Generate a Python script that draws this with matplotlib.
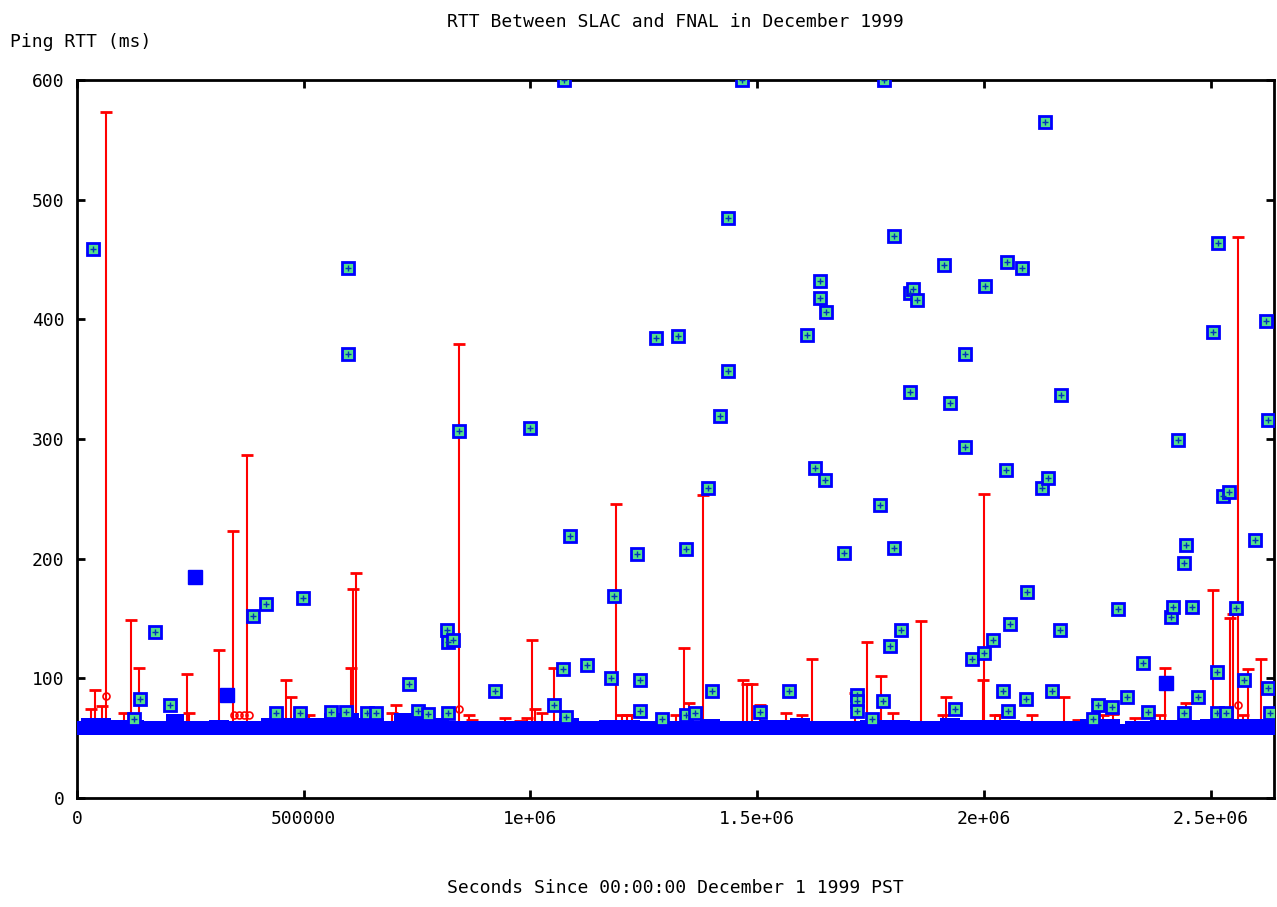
import numpy as np
import matplotlib
matplotlib.use("Agg")
import matplotlib.pyplot as plt
from matplotlib.ticker import FixedLocator, FixedFormatter

# baseline band of normal pings (upper profile, ms) - bottom of band ~53 ms
band_x = [0, 8.8e3, 75e3, 148e3, 196e3, 236e3, 291e3, 336e3, 406e3, 446e3, 545e3,
          623e3, 678e3, 700e3, 755e3, 821e3, 909e3, 1064e3, 1108e3, 1152e3, 1241e3,
          1373e3, 1417e3, 1506e3, 1572e3, 1616e3, 1726e3, 1837e3, 1903e3, 1947e3,
          2080e3, 2212e3, 2300e3, 2311e3, 2366e3, 2477e3, 2647e3]
band_top = [64, 67, 65, 64, 70, 64, 65, 64, 67, 67, 71,
            67, 64, 71, 67, 64, 64, 67, 64, 65, 64,
            66, 64, 65, 67, 64, 65, 64, 67, 65,
            64, 66, 62, 64, 65, 66, 66]
band_bottom = 53

# individual high RTT samples
pts_x = [35e3, 172e3, 139e3, 205e3, 126e3, 389e3, 417e3, 439e3, 499e3, 492e3,
         561e3, 594e3, 598e3, 598e3, 640e3, 660e3, 733e3, 751e3, 773e3, 815e3,
         819e3, 830e3, 819e3, 843e3, 921e3, 998e3, 1051e3, 1071e3, 1079e3, 1075e3,
         1088e3, 1124e3, 1177e3, 1185e3, 1236e3, 1241e3, 1241e3, 1278e3, 1291e3, 1325e3,
         1342e3, 1342e3, 1362e3, 1391e3, 1400e3, 1417e3, 1435e3, 1435e3, 1466e3, 1506e3,
         1570e3, 1611e3, 1627e3, 1638e3, 1638e3, 1651e3, 1649e3, 1691e3, 1720e3, 1720e3,
         1720e3, 1753e3, 1770e3, 1777e3, 1779e3, 1792e3, 1801e3, 1801e3, 1817e3, 1837e3,
         1837e3, 1843e3, 1852e3, 1912e3, 1925e3, 1936e3, 1958e3, 1958e3, 1974e3, 2000e3,
         2002e3, 2020e3, 2042e3, 2049e3, 2051e3, 2053e3, 2057e3, 2084e3, 2093e3, 2095e3,
         2128e3, 2135e3, 2141e3, 2150e3, 2168e3, 2170e3, 2241e3, 2252e3, 2283e3, 2296e3,
         2316e3, 2351e3, 2362e3, 2413e3, 2417e3, 2428e3, 2441e3, 2441e3, 2446e3, 2459e3,
         2472e3, 2505e3, 2514e3, 2514e3, 2517e3, 2528e3, 2534e3, 2541e3, 2556e3, 2574e3,
         2598e3, 2623e3, 2627e3, 2627e3, 2631e3]
pts_y = [459, 139, 83, 78, 66, 152, 162, 71, 167, 71,
         72, 72, 443, 371, 71, 71, 95, 73, 70, 140,
         130, 132, 71, 307, 89, 309, 78, 108, 68, 600,
         219, 111, 100, 169, 204, 99, 73, 384, 66, 386,
         208, 69, 71, 259, 89, 319, 357, 485, 600, 72,
         89, 387, 276, 432, 418, 406, 266, 205, 86, 81,
         73, 66, 245, 81, 600, 127, 209, 470, 140, 339,
         422, 425, 416, 445, 330, 74, 371, 293, 116, 121,
         428, 132, 89, 274, 448, 73, 145, 443, 83, 172,
         259, 565, 267, 89, 140, 337, 66, 78, 76, 158,
         84, 113, 72, 151, 160, 299, 71, 196, 211, 160,
         84, 389, 105, 71, 464, 252, 71, 256, 159, 99,
         216, 399, 316, 92, 71]

# clusters of overlapping samples (drawn as solid blobs)
blob_x = [260e3, 331e3, 2402e3]
blob_y = [185, 86, 96]

# red error bars: top of the bar (ms)
err_x = [64e3, 31e3, 40e3, 55e3, 104e3, 119e3, 137e3, 243e3, 247e3, 313e3,
         344e3, 375e3, 461e3, 472e3, 512e3, 605e3, 609e3, 616e3, 695e3, 704e3,
         773e3, 843e3, 865e3, 872e3, 945e3, 976e3, 993e3, 1004e3, 1009e3, 1026e3,
         1053e3, 1188e3, 1203e3, 1214e3, 1225e3, 1322e3, 1338e3, 1349e3, 1380e3, 1468e3,
         1477e3, 1488e3, 1506e3, 1563e3, 1600e3, 1620e3, 1715e3, 1742e3, 1773e3, 1799e3,
         1861e3, 1909e3, 1916e3, 1998e3, 2000e3, 2024e3, 2035e3, 2106e3, 2177e3, 2208e3,
         2249e3, 2263e3, 2285e3, 2333e3, 2389e3, 2400e3, 2446e3, 2505e3, 2543e3, 2550e3,
         2561e3, 2572e3, 2583e3, 2611e3]
err_top = [573, 74, 90, 77, 71, 149, 109, 104, 71, 124,
           223, 287, 99, 84, 69, 109, 175, 188, 71, 78,
           74, 379, 69, 65, 67, 64, 67, 132, 74, 71,
           109, 246, 69, 69, 69, 69, 125, 79, 253, 99,
           95, 95, 78, 71, 69, 116, 88, 130, 102, 71,
           148, 69, 84, 99, 254, 69, 69, 69, 84, 65,
           81, 69, 70, 67, 69, 109, 79, 174, 150, 154,
           469, 69, 108, 116]
err_base = 60

# small red circles near the band
ring_x = [64e3, 347e3, 358e3, 369e3, 380e3, 843e3, 2561e3]
ring_y = [85, 69, 69, 69, 69, 74, 78]

fig = plt.figure(figsize=(12.77, 9.07), dpi=100)
ax = fig.add_axes([0.0603, 0.1202, 0.9374, 0.7916])

ax.vlines(err_x, err_base, err_top, colors="#ff0000", lw=1.5, zorder=2)
ax.plot(err_x, err_top, linestyle="none", marker="_", ms=8, mew=2,
        color="#ff0000", zorder=2)
ax.plot(ring_x, ring_y, linestyle="none", marker="o", ms=5, mfc="none",
        mec="#ff0000", mew=1.2, zorder=2)

ax.fill_between(band_x, band_bottom, band_top, step="post",
                color="#0000ff", lw=0, zorder=3)

ax.plot(blob_x, blob_y, linestyle="none", marker="s", ms=10,
        color="#0000ff", zorder=4)
ax.plot(pts_x, pts_y, linestyle="none", marker="s", ms=8.5, mew=2,
        mec="#0000ff", mfc="#55e08a", zorder=5)
ax.plot(pts_x, pts_y, linestyle="none", marker="+", ms=4, mew=1,
        color="#0030c0", zorder=6)

ax.set_xlim(0, 2.64e6)
ax.set_ylim(0, 600)

mono = "DejaVu Sans Mono"
xt = [0, 5e5, 1e6, 1.5e6, 2e6, 2.5e6]
ax.xaxis.set_major_locator(FixedLocator(xt))
ax.xaxis.set_major_formatter(FixedFormatter(["0", "500000", "1e+06", "1.5e+06", "2e+06", "2.5e+06"]))
ax.set_yticks(range(0, 601, 100))
ax.tick_params(direction="in", length=6, width=2, top=True, right=True,
               labelsize=13, pad=9)
for lab in ax.get_xticklabels() + ax.get_yticklabels():
    lab.set_family(mono)
for s in ax.spines.values():
    s.set_linewidth(2)

fig.text(0.529, 0.976, "RTT Between SLAC and FNAL in December 1999",
         ha="center", va="center", fontsize=13, family=mono)
fig.text(0.008, 0.954, "Ping RTT (ms)", ha="left", va="center",
         fontsize=13, family=mono)
fig.text(0.529, 0.021, "Seconds Since 00:00:00 December 1 1999 PST",
         ha="center", va="center", fontsize=13, family=mono)

fig.savefig("out.png", dpi=100)
